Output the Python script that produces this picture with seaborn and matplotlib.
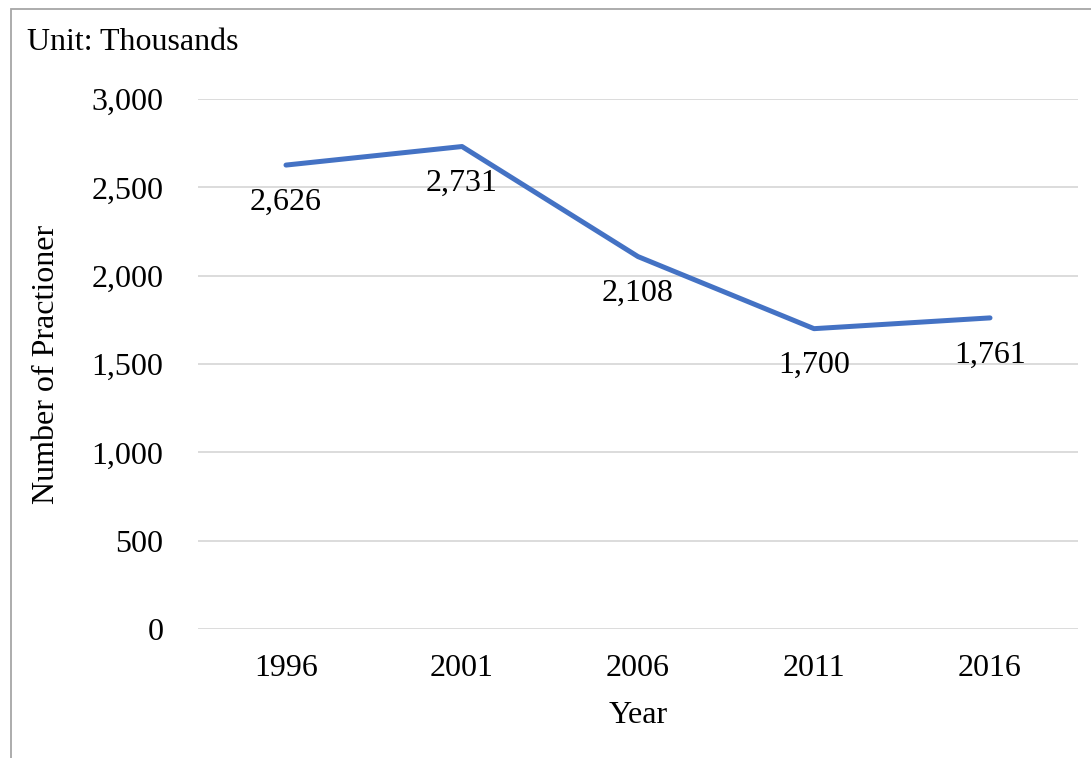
import matplotlib
matplotlib.use("Agg")
import matplotlib.pyplot as plt
import seaborn as sns
import pandas as pd
from matplotlib.ticker import FuncFormatter
from matplotlib.patches import Rectangle

years = ["1996", "2001", "2006", "2011", "2016"]
values = [2626, 2731, 2108, 1700, 1761]
yticks = [0, 500, 1000, 1500, 2000, 2500, 3000]

sns.set_theme(style="white")
plt.rcParams['font.family'] = ['Liberation Serif', 'DejaVu Serif']
plt.rcParams['text.color'] = 'black'

df = pd.DataFrame({"Year": years, "Value": values})

W, H = 1091, 758
fig = plt.figure(figsize=(W / 100, H / 100), dpi=100)
ax = fig.add_axes([198 / W, 1 - 629 / H, 880 / W, (629 - 99) / H])

sns.lineplot(data=df, x="Year", y="Value", ax=ax, color="#4472C4", linewidth=3.6,
             sort=False)

ax.set_xlim(-0.5, 4.5)
ax.set_ylim(0, 3000)
ax.set_yticks(yticks)
ax.yaxis.set_major_formatter(FuncFormatter(lambda v, p: f"{int(v):,}"))
ax.grid(axis="y", color="#d9d9d9", linewidth=1.3)
ax.grid(axis="x", visible=False)
for s in ax.spines.values():
    s.set_visible(False)
ax.tick_params(axis="both", length=0, labelsize=23, colors="black")
ax.tick_params(axis="y", pad=25)
ax.tick_params(axis="x", pad=18)
ax.set_xlabel("Year", fontsize=23, color="black", labelpad=13)
ax.set_ylabel("Number of Practioner", fontsize=23, color="black", labelpad=22)

for i, v in enumerate(values):
    ax.annotate(f"{v:,}", (i, v), xytext=(0, -37 * 72 / 100), textcoords="offset points",
                ha="center", va="center", fontsize=23, color="black")

fig.text(27 / W, 1 - 43 / H, "Unit: Thousands", fontsize=23, ha="left", va="center",
         color="black")

fig.patches.append(Rectangle((10.5 / W, -0.1), 1.2, 1 - 9.5 / H + 0.1,
                             transform=fig.transFigure, fill=False,
                             edgecolor="#a6a6a6", linewidth=1.3))

fig.savefig("out.png", dpi=100)
